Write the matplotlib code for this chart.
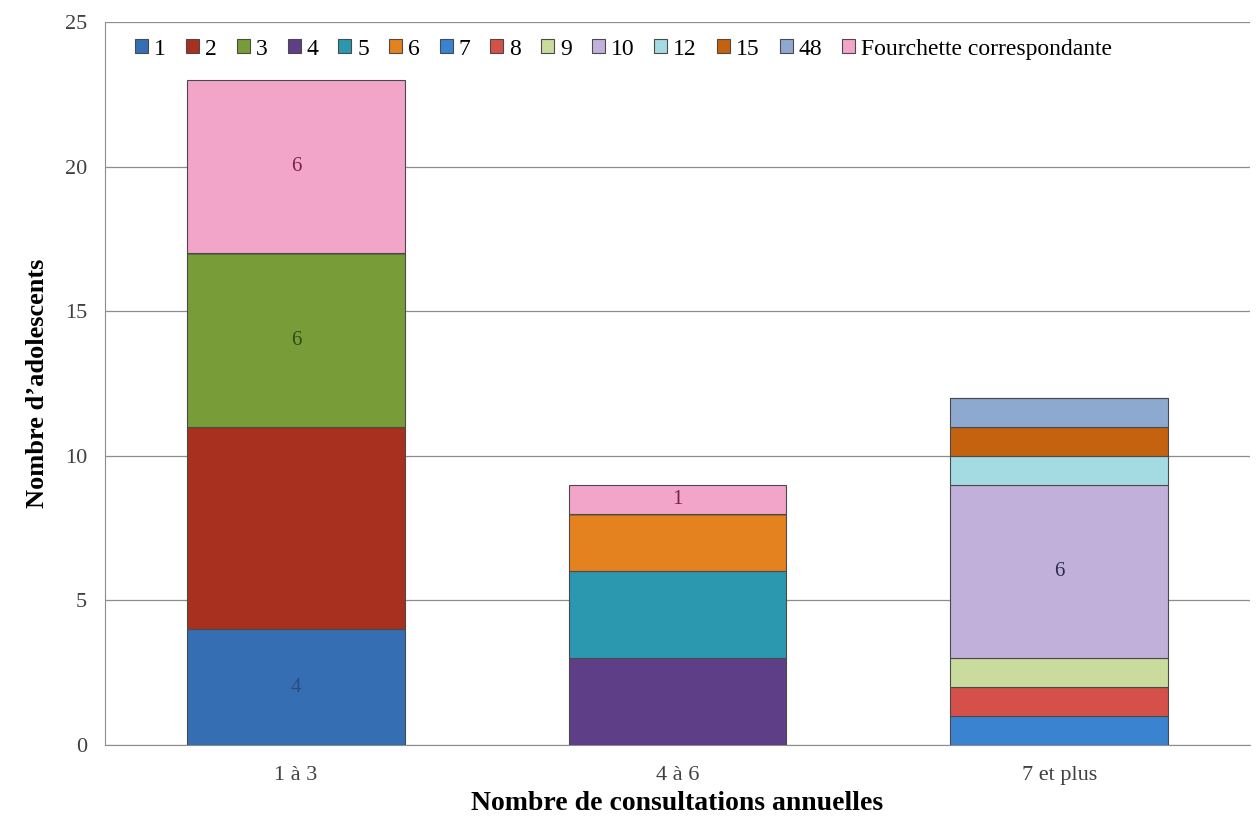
import matplotlib
matplotlib.use("Agg")
import matplotlib.pyplot as plt
import numpy as np

categories = ["1 à 3", "4 à 6", "7 et plus"]
series_names = ["1", "2", "3", "4", "5", "6", "7", "8", "9", "10", "12", "15", "48",
                "Fourchette correspondante"]
values = {
    "1": [4, 0, 0],
    "2": [7, 0, 0],
    "3": [6, 0, 0],
    "4": [0, 3, 0],
    "5": [0, 3, 0],
    "6": [0, 2, 0],
    "7": [0, 0, 1],
    "8": [0, 0, 1],
    "9": [0, 0, 1],
    "10": [0, 0, 6],
    "12": [0, 0, 1],
    "15": [0, 0, 1],
    "48": [0, 0, 1],
    "Fourchette correspondante": [6, 1, 0],
}
# which (series, category index) segments carry a value label
labelled = [("1", 0), ("3", 0), ("Fourchette correspondante", 0),
            ("Fourchette correspondante", 1), ("10", 2)]

colors = {
    "1": "#356eb3", "2": "#a8301f", "3": "#789c38", "4": "#5e3f87",
    "5": "#2b98b0", "6": "#e3821f", "7": "#3a83d0", "8": "#d6504a",
    "9": "#c9dc9e", "10": "#c1b1da", "12": "#a4dbe2", "15": "#c4620f",
    "48": "#8ea9d0", "Fourchette correspondante": "#f3a4c9",
}
label_colors = {"1": "#2a4a80", "3": "#2f4a14", "Fourchette correspondante": "#7a2050",
                "10": "#2a2a50"}

plt.rcParams['font.family'] = ['Liberation Serif', 'DejaVu Serif']

fig = plt.figure(figsize=(12.56, 8.21), dpi=100)
ax = fig.add_axes([105/1256, 1-745/821, (1250-105)/1256, (745-22)/821])

x = np.arange(len(categories))
width = 0.57
bottom = np.zeros(len(categories))
handles = []
for name in series_names:
    v = np.array(values[name], dtype=float)
    b = ax.bar(x, v, width, bottom=bottom, color=colors[name],
               edgecolor="#4a4a4a", linewidth=0.8, label=name, zorder=3)
    handles.append(b)
    for (sn, ci) in labelled:
        if sn == name:
            ax.text(x[ci], bottom[ci] + v[ci] / 2, f"{int(v[ci])}",
                    ha="center", va="center", fontsize=15,
                    color=label_colors.get(name, "#333333"), zorder=4)
    bottom += v

ax.set_xlim(-0.5, 2.5)
ax.set_ylim(0, 25)
ax.set_yticks([0, 5, 10, 15, 20, 25])
ax.set_xticks(x)
ax.set_xticklabels(categories)
ax.tick_params(axis="both", labelsize=16, colors="#404040", length=0)
ax.tick_params(axis="y", pad=13)
ax.tick_params(axis="x", pad=15)
ax.yaxis.grid(True, color="#8c8c8c", linewidth=0.9, zorder=0)
for s in ["top", "right"]:
    ax.spines[s].set_visible(False)
ax.spines["left"].set_color("#8c8c8c")
ax.spines["bottom"].set_color("#8c8c8c")

ax.set_ylabel("Nombre d\u2019adolescents", fontsize=19, fontweight="bold")
ax.set_xlabel("Nombre de consultations annuelles", fontsize=20, fontweight="bold")
ax.yaxis.set_label_coords(-0.049, 0.5)
ax.xaxis.set_label_coords(0.5, -0.064)

leg = ax.legend(handles=handles, labels=series_names, loc="upper left",
                bbox_to_anchor=(0.012, 1.0), ncol=len(series_names), frameon=False,
                fontsize=17, handlelength=0.55, handleheight=0.55, handletextpad=0.25,
                columnspacing=0.85, borderaxespad=0.3)

fig.savefig("out.png", dpi=100, facecolor="white")
